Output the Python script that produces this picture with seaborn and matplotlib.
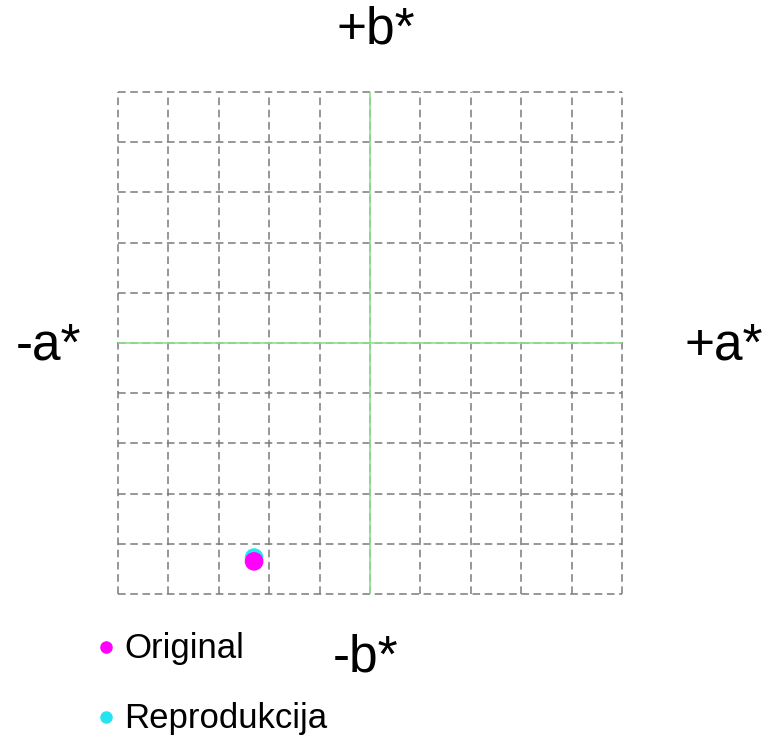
import numpy as np
import pandas as pd
import matplotlib
matplotlib.use('Agg')
import matplotlib.pyplot as plt
import seaborn as sns

# CIELab a*/b* readings
samples = ['Original', 'Reprodukcija']
a_vals = [-46, -46]
b_vals = [-87, -85.5]
colors = ['#ff00ff', '#22e5f0']

grid_ticks = np.arange(-100, 101, 20)

sns.set_style('white')
plt.rcParams['font.family'] = ['Liberation Sans', 'DejaVu Sans']
plt.rcParams['text.color'] = 'black'

df = pd.DataFrame({'sample': samples, 'a': a_vals, 'b': b_vals})

fig = plt.figure(figsize=(7.69, 7.40), dpi=100)
ax = fig.add_axes([118/769, 1-594/740, 504/769, 502/740])

# reproduction drawn first so the original sits on top
for i in [1, 0]:
    sns.scatterplot(data=df.iloc[[i]], x='a', y='b', color=colors[i], s=180,
                    edgecolor='none', ax=ax, zorder=5, legend=False)

ax.set_xlim(-100, 100)
ax.set_ylim(-100, 100)
ax.set_xticks(grid_ticks)
ax.set_yticks(grid_ticks)
ax.tick_params(length=0, labelbottom=False, labelleft=False)
ax.grid(True, color='#7a7a7a', linestyle=(0, (5, 3)), linewidth=1.1)
for gl in ax.get_xgridlines() + ax.get_ygridlines():
    gl.set_clip_on(False)
ax.set_axisbelow(True)
for s in ax.spines.values():
    s.set_visible(False)
ax.set_xlabel('')
ax.set_ylabel('')
ax.axhline(0, color='#8fe08f', lw=1.2, zorder=2)
ax.axvline(0, color='#8fe08f', lw=1.2, zorder=2)

fs = 37
fig.text(376/769, 1-44/740, '+b*', fontsize=fs, ha='center', va='baseline')
fig.text(366/769, 1-672/740, '-b*', fontsize=fs, ha='center', va='baseline')
fig.text(48/769, 1-360/740, '-a*', fontsize=fs, ha='center', va='baseline')
fig.text(724/769, 1-360/740, '+a*', fontsize=fs, ha='center', va='baseline')

# legend
leg_y = [647, 717]
for i in range(2):
    fig.lines.append(plt.Line2D([106/769], [1-leg_y[i]/740], marker='o', markersize=8,
                                color=colors[i], linestyle='none',
                                transform=fig.transFigure, figure=fig))
    fig.text(124/769, 1-(leg_y[i]+11)/740, samples[i], fontsize=25, ha='left', va='baseline')

fig.savefig('out.png', dpi=100)
